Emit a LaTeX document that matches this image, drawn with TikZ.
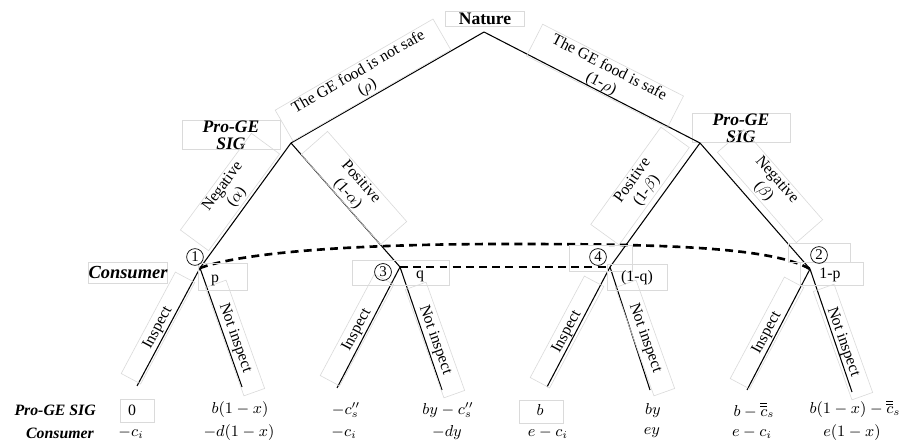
\documentclass[tikz,border=0pt]{standalone}
\usepackage{fontspec}
\setmainfont{Liberation Serif}
\usetikzlibrary{calc}
\definecolor{ghostgray}{RGB}{218,218,218}
\tikzset{
  branch/.style={line width=0.6pt},
  infoset/.style={line width=1.5pt, dash pattern=on 4.5pt off 3pt},
  ghost/.style={draw=ghostgray, line width=0.35pt},
  edgelbl/.style={
    ghost,
    align=center,
    font=\fontsize{9}{10}\selectfont,
    inner xsep=6pt,
    inner ysep=1pt,
    minimum width=2.4cm
  },
  leaflbl/.style={
    ghost,
    font=\fontsize{9}{10}\selectfont,
    inner sep=1pt,
    minimum width=2.3cm,
    minimum height=0.44cm
  },
  player/.style={font=\fontsize{10}{9.6}\selectfont\bfseries\itshape, align=center},
  numcirc/.style={circle, draw, line width=0.4pt, inner sep=0.9pt, font=\fontsize{8.5}{8.5}\selectfont},
  problbl/.style={font=\fontsize{9}{10}\selectfont},
  payoff/.style={font=\fontsize{9}{10}\selectfont},
  rowhead/.style={font=\fontsize{9}{10}\selectfont\bfseries\itshape, anchor=east}
}

\begin{document}
\begin{tikzpicture}[x=0.02cm,y=-0.02cm]
    \useasboundingbox (0,0) rectangle (901,445);

    % decision points and leaves
    \coordinate (root) at (484,32);
    \coordinate (sigL) at (291,143);
    \coordinate (sigR) at (700,143);
    \coordinate (con1) at (200,268);
    \coordinate (con3) at (400,267);
    \coordinate (con4) at (610,267);
    \coordinate (con2) at (810,269);
    \coordinate (leaf1a) at (137,386);
    \coordinate (leaf1b) at (242,387);
    \coordinate (leaf3a) at (337,388);
    \coordinate (leaf3b) at (442,390);
    \coordinate (leaf4a) at (547,387);
    \coordinate (leaf4b) at (650,390);
    \coordinate (leaf2a) at (747,390);
    \coordinate (leaf2b) at (852,392);

    % players
    \node[ghost, minimum width=1.58cm, minimum height=0.3cm, inner sep=0.5pt, font=\fontsize{10}{10}\selectfont\bfseries] (nature) at (485,19) {Nature};
    \node[player, ghost, minimum width=1.96cm, minimum height=0.5cm, inner sep=0pt] (sigLlbl) at (231,135) {Pro-GE\\SIG};
    \node[player, ghost, minimum width=1.96cm, minimum height=0.5cm, inner sep=0pt] (sigRlbl) at (741,128) {Pro-GE\\SIG};
    \node[player, ghost, font=\fontsize{10.5}{11}\selectfont\bfseries\itshape, minimum width=1.56cm, minimum height=0.42cm, inner sep=0pt] (conlbl) at (128,273) {Consumer};

    % tree
    \draw[branch] (root) -- (sigL);
    \draw[branch] (root) -- (sigR);
    \draw[branch] (sigL) -- (con1);
    \draw[branch] (sigL) -- (con3);
    \draw[branch] (sigR) -- (con4);
    \draw[branch] (sigR) -- (con2);
    \draw[branch] (con1) -- (leaf1a);
    \draw[branch] (con1) -- (leaf1b);
    \draw[branch] (con3) -- (leaf3a);
    \draw[branch] (con3) -- (leaf3b);
    \draw[branch] (con4) -- (leaf4a);
    \draw[branch] (con4) -- (leaf4b);
    \draw[branch] (con2) -- (leaf2a);
    \draw[branch] (con2) -- (leaf2b);

    % branch labels
    \node[edgelbl, rotate=30, inner xsep=9pt] (lnotsafe) at (363,80) {The GE food is not safe\\($\rho$)};
    \node[edgelbl, rotate=-27, inner xsep=9pt] (lsafe) at (605,76) {The GE food is safe\\(1-$\rho$)};
    \node[edgelbl, rotate=53.7] (lnegA) at (230,192) {Negative\\($\alpha$)};
    \node[edgelbl, rotate=-48.7] (lposA) at (354,188) {Positive\\(1-$\alpha$)};
    \node[edgelbl, rotate=54.2] (lposB) at (640,186) {Positive\\(1-$\beta$)};
    \node[edgelbl, rotate=-48.9] (lnegB) at (770,186) {Negative\\($\beta$)};

    \node[leaflbl, rotate=61.9] (ins1) at (158,328) {Inspect};
    \node[leaflbl, rotate=-70.4] (nins1) at (235,338) {Not inspect};
    \node[leaflbl, rotate=61.9] (ins3) at (357,330) {Inspect};
    \node[leaflbl, rotate=-70.4] (nins3) at (435,340) {Not inspect};
    \node[leaflbl, rotate=61.9] (ins4) at (567,332) {Inspect};
    \node[leaflbl, rotate=-70.4] (nins4) at (645,338) {Not inspect};
    \node[leaflbl, rotate=61.9] (ins2) at (767,333) {Inspect};
    \node[leaflbl, rotate=-70.4] (nins2) at (843,342) {Not inspect};

    % information sets
    \coordinate (imid) at (505,244);
    \draw[infoset] (con1) .. controls (250,250) and (380,244) .. (imid) .. controls (650,244) and (770,246) .. (con2);
    \draw[infoset] (con3) -- (con4);

    % consumer nodes
    \draw[ghost] (198,263) rectangle (247,290);
    \draw[ghost] (352,260) rectangle (449,285);
    \draw[ghost] (569,245) rectangle (632,271);
    \draw[ghost] (607,264) rectangle (667,290);
    \draw[ghost] (788,243) rectangle (850,262);
    \draw[ghost] (800,262) rectangle (863,285);
    \node[numcirc] (num1) at (195,257) {1};
    \node[numcirc] (num3) at (383,272) {3};
    \node[numcirc] (num4) at (598,257) {4};
    \node[numcirc] (num2) at (819,255) {2};
    \node[problbl] (prob1) at (215,280) {p};
    \node[problbl] (prob3) at (420,276) {q};
    \node[problbl] (prob4) at (637,278) {(1-q)};
    \node[problbl] (prob2) at (830,275) {1-p};

    % payoffs
    \node[rowhead] (hsig) at (102,410) {Pro-GE SIG};
    \node[rowhead] (hcon) at (100,433) {Consumer};
    \draw[ghost] (120,399) rectangle (154,422);
    \draw[ghost] (519,400) rectangle (563,423);
    \node[payoff] (sig1) at (132,410) {0};
    \node[payoff] (sig2) at (240,410) {$b(1-x)$};
    \node[payoff] (sig3) at (346,410) {$-c''_s$};
    \node[payoff] (sig4) at (448,410) {$by-c''_s$};
    \node[payoff] (sig5) at (540,410) {$b$};
    \node[payoff] (sig6) at (653,411) {$by$};
    \node[payoff] (sig7) at (754,410) {$b-\overline{\overline{c}}_s$};
    \node[payoff] (sig8) at (855,409) {$b(1-x)-\overline{\overline{c}}_s$};
    \node[payoff] (con1p) at (131,433) {$-c_i$};
    \node[payoff] (con2p) at (239,433) {$-d(1-x)$};
    \node[payoff] (con3p) at (344,433) {$-c_i$};
    \node[payoff] (con4p) at (447,433) {$-dy$};
    \node[payoff] (con5p) at (548,433) {$e-c_i$};
    \node[payoff] (con6p) at (652,433) {$ey$};
    \node[payoff] (con7p) at (752,433) {$e-c_i$};
    \node[payoff] (con8p) at (852,433) {$e(1-x)$};
\end{tikzpicture}
\end{document}
